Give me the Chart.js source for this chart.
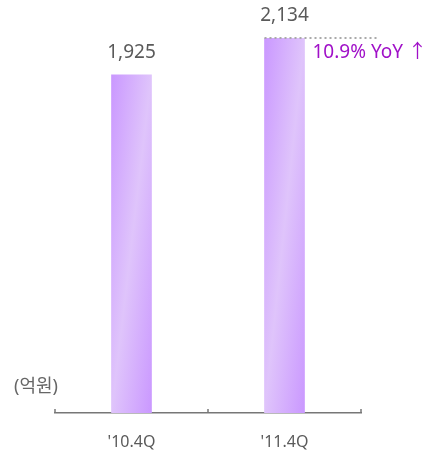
<!DOCTYPE html>
<html>
<head>
<meta charset="utf-8">
<script src="https://cdn.jsdelivr.net/npm/chart.js@4"></script>
<style>
  html, body { margin: 0; padding: 0; background: #fff; }
  #wrap { width: 425px; height: 451px; position: relative; }
</style>
</head>
<body>
<div id="wrap"><canvas id="salesChart"></canvas></div>
<script>
const periods = ["'10.4Q", "'11.4Q"];
const sales = [1925, 2134];
const growthText = '10.9% YoY ↑';
const unitText = '(억원)';

const darkPurple = '#ca98ff';
const lightPurple = '#dfc4fb';
const textFont = '"Noto Sans", "Noto Sans CJK KR", sans-serif';

function barGradient(ctx) {
    const chart = ctx.chart;
    const area = chart.chartArea;
    if (!area) return darkPurple;
    const w = 40;
    const x0 = chart.scales.x.getPixelForValue(ctx.dataIndex) - w / 2;
    const top = chart.scales.y.getPixelForValue(sales[ctx.dataIndex]);
    const h = area.bottom - top;
    const t = 2 * w * h / (h * h + w * w);
    const g = chart.ctx.createLinearGradient(x0, top, x0 + t * h, top + t * w);
    g.addColorStop(0, darkPurple);
    g.addColorStop(0.5, lightPurple);
    g.addColorStop(1, darkPurple);
    return g;
}

// value labels, YoY note, unit and the little tick marks on the axis
const extras = {
    id: 'extras',
    afterDraw(chart) {
        const c = chart.ctx;
        const xs = chart.scales.x;
        const area = chart.chartArea;
        const bars = chart.getDatasetMeta(0).data;
        c.save();

        c.fillStyle = '#5a5a5a';
        c.font = '19px ' + textFont;
        c.textAlign = 'center';
        c.textBaseline = 'middle';
        bars.forEach((bar, i) => {
            c.fillText(sales[i].toLocaleString('en-US'), bar.x, bar.y - 22);
        });

        // dotted line from the top of the second bar
        const last = bars[bars.length - 1];
        c.strokeStyle = '#aaa';
        c.lineWidth = 2;
        c.setLineDash([2, 3]);
        c.beginPath();
        c.moveTo(last.x - 20, last.y);
        c.lineTo(last.x + 94, last.y);
        c.stroke();
        c.setLineDash([]);

        c.fillStyle = '#a010c8';
        c.textAlign = 'left';
        c.fillText(growthText, last.x + 28, last.y + 15);

        c.fillStyle = '#666';
        c.font = '18px ' + textFont;
        c.fillText(unitText, 14, 387);

        // tick marks pointing up from the axis
        const mid = (xs.getPixelForValue(0) + xs.getPixelForValue(1)) / 2;
        c.strokeStyle = '#777';
        c.lineWidth = 1.5;
        [area.left, mid, area.right].forEach(px => {
            c.beginPath();
            c.moveTo(px, area.bottom);
            c.lineTo(px, area.bottom - 4);
            c.stroke();
        });
        c.restore();
    }
};

new Chart(document.getElementById('salesChart'), {
    type: 'bar',
    data: {
        labels: periods,
        datasets: [{
            data: sales,
            backgroundColor: barGradient,
            barThickness: 40
        }]
    },
    options: {
        responsive: true,
        maintainAspectRatio: false,
        animation: false,
        layout: { padding: { left: 55, right: 64, top: 38, bottom: 0 } },
        plugins: { legend: { display: false }, tooltip: { enabled: false } },
        scales: {
            x: {
                grid: { display: false, drawTicks: false },
                border: { display: true, color: '#777', width: 1.5 },
                ticks: { color: '#5a5a5a', padding: 20, font: { size: 16, family: textFont } },
                afterFit: s => { s.height = 38; }
            },
            y: {
                display: false,
                min: 0,
                max: 2134
            }
        }
    },
    plugins: [extras]
});
</script>
</body>
</html>
